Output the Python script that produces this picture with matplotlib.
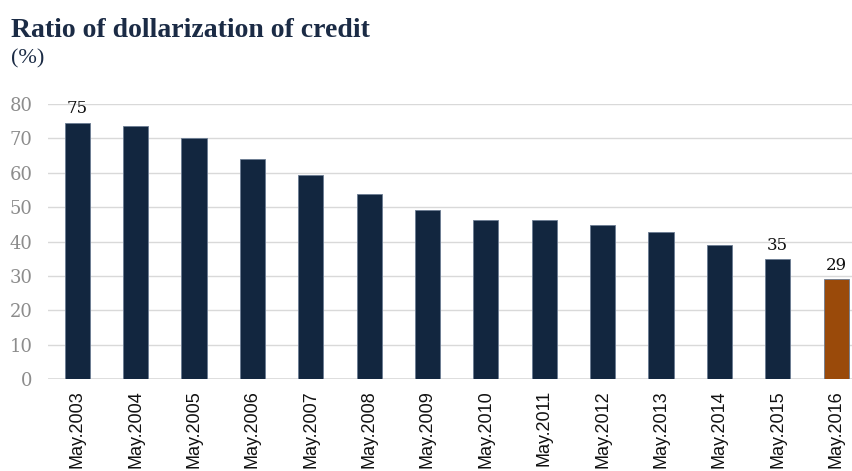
import matplotlib
matplotlib.use("Agg")
import matplotlib.pyplot as plt

categories = ["May.2003", "May.2004", "May.2005", "May.2006", "May.2007", "May.2008",
              "May.2009", "May.2010", "May.2011", "May.2012", "May.2013", "May.2014",
              "May.2015", "May.2016"]
values = [74.6, 73.7, 70.2, 64.1, 59.4, 53.9, 49.2, 46.3, 46.2, 44.9, 42.8, 39.0, 34.9, 29.1]
labels = {0: "75", 12: "35", 13: "29"}
yticks = [0, 10, 20, 30, 40, 50, 60, 70, 80]

navy = "#12263f"
orange = "#9a4a0a"
colors = [navy] * (len(values) - 1) + [orange]

fig = plt.figure(figsize=(8.53, 4.71), dpi=100)
ax = fig.add_axes([0.0563, 0.1953, 0.9437, 0.5839])
x = list(range(len(values)))
ax.bar(x, values, width=0.43, color=colors, edgecolor="#6b7c93", linewidth=0.6, zorder=3)
for i, t in labels.items():
    ax.text(i, values[i] + 1.5, t, ha="center", va="bottom", fontsize=12,
            family="DejaVu Serif", color="#111111")
ax.set_xlim(-0.5, 13.29)
ax.set_ylim(0, 80)
ax.set_yticks(yticks)
ax.set_yticklabels([str(v) for v in yticks], family="DejaVu Serif", fontsize=13, color="#8c8c8c")
ax.set_xticks(x)
ax.set_xticklabels(categories, rotation=90, family="Liberation Sans", fontsize=13, color="#111111")
ax.tick_params(axis="both", length=0)
ax.tick_params(axis="y", pad=11)
ax.tick_params(axis="x", pad=8)
ax.grid(axis="y", color="#d9d9d9", linewidth=1, zorder=0)
for s in ax.spines.values():
    s.set_visible(False)
ax.axhline(0, color="#d9d9d9", linewidth=1.2, zorder=2)

fig.text(0.013, 0.922, "Ratio of dollarization of credit", fontsize=20, fontweight="bold",
         family="Liberation Serif", color="#1b2b45", va="baseline")
fig.text(0.013, 0.866, "(%)", fontsize=16, family="Liberation Serif", color="#1b2b45", va="baseline")

fig.savefig("out.png", dpi=100)
